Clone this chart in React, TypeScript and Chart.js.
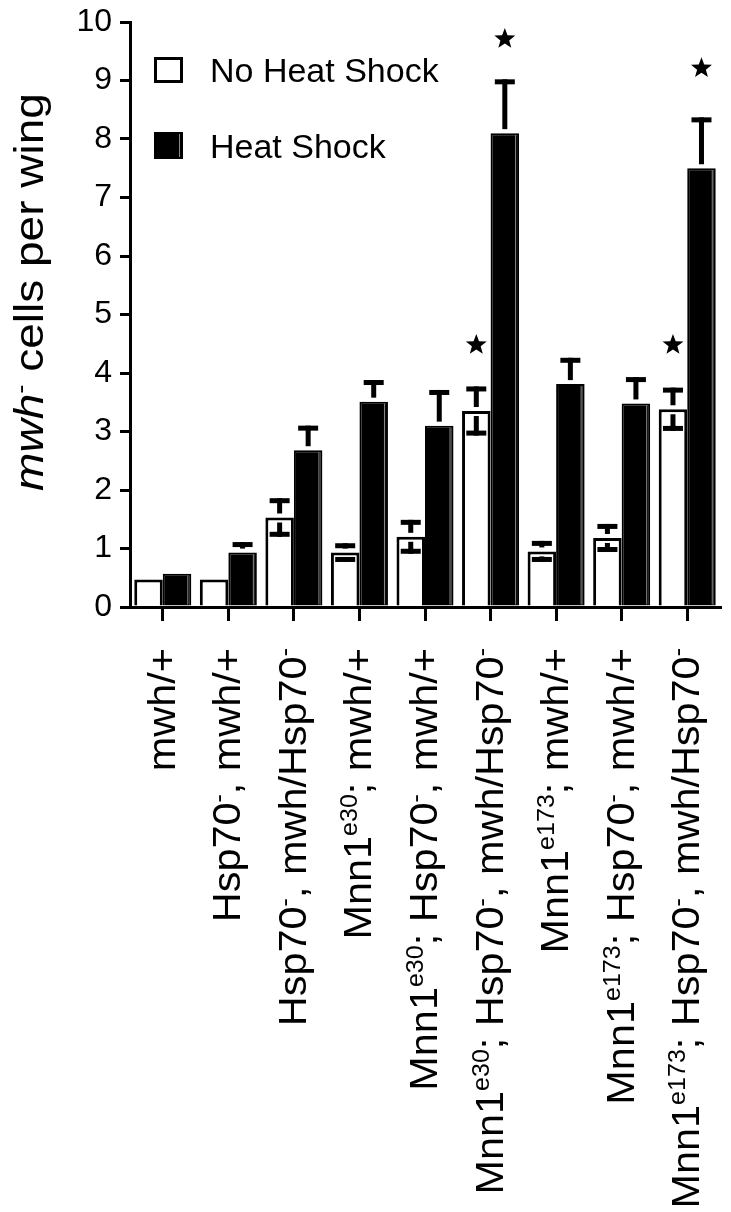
import React, { useEffect, useRef } from "react";
import { Chart, registerables } from "chart.js";

Chart.register(...registerables);

const categories = [
  "mwh/+",
  "Hsp70^{-}, mwh/+",
  "Hsp70^{-}, mwh/Hsp70^{-}",
  "Mnn1^{e30}; mwh/+",
  "Mnn1^{e30}; Hsp70^{-}, mwh/+",
  "Mnn1^{e30}; Hsp70^{-}, mwh/Hsp70^{-}",
  "Mnn1^{e173}; mwh/+",
  "Mnn1^{e173}; Hsp70^{-}, mwh/+",
  "Mnn1^{e173}; Hsp70^{-}, mwh/Hsp70^{-}",
];

const noHeatShock = [0.47, 0.47, 1.53, 0.93, 1.2, 3.35, 0.95, 1.18, 3.38];
const noHeatShockErr = [0, 0, 0.33, 0.16, 0.29, 0.42, 0.18, 0.24, 0.37];
const heatShock = [0.57, 0.93, 2.68, 3.51, 3.1, 8.1, 3.81, 3.48, 7.5];
const heatShockErr = [0, 0.18, 0.42, 0.37, 0.61, 0.92, 0.45, 0.45, 0.87];

const noHeatStars: (number | null)[] = [null, null, null, null, null, 4.48, null, null, 4.48];
const heatStars: (number | null)[] = [null, null, null, null, null, 9.71, null, null, 9.21];

const yTicks = [0, 1, 2, 3, 4, 5, 6, 7, 8, 9, 10];
const seriesNames = ["No Heat Shock", "Heat Shock"];

const FONT = "'Liberation Sans', Arial, Helvetica, sans-serif";

type Seg = { t: string; sup: boolean };
function parse(s: string): Seg[] {
  const segs: Seg[] = [];
  const re = /\^\{([^}]*)\}/g;
  let last = 0;
  let m: RegExpExecArray | null;
  while ((m = re.exec(s))) {
    if (m.index > last) segs.push({ t: s.slice(last, m.index), sup: false });
    segs.push({ t: m[1], sup: true });
    last = re.lastIndex;
  }
  if (last < s.length) segs.push({ t: s.slice(last), sup: false });
  return segs;
}

function plainLabel(s: string) {
  return s.replace(/\^\{([^}]*)\}/g, "$1");
}

function drawStar(ctx: CanvasRenderingContext2D, cx: number, cy: number, r: number) {
  const ri = r * 0.42;
  ctx.beginPath();
  for (let i = 0; i < 10; i++) {
    const rad = i % 2 === 0 ? r : ri;
    const a = -Math.PI / 2 + (i * Math.PI) / 5;
    const x = cx + rad * Math.cos(a);
    const y = cy + rad * Math.sin(a);
    if (i === 0) ctx.moveTo(x, y);
    else ctx.lineTo(x, y);
  }
  ctx.closePath();
  ctx.fill();
}

const customPlugin = {
  id: "custom",
  afterDatasetsDraw(chart: any) {
    const ctx: CanvasRenderingContext2D = chart.ctx;
    const yS = chart.scales.y;
    const errs = [noHeatShockErr, heatShockErr];
    const vals = [noHeatShock, heatShock];
    const stars = [noHeatStars, heatStars];
    ctx.save();
    const metaB = chart.getDatasetMeta(1);
    metaB.data.forEach((bar: any) => {
      const right = bar.x + bar.width / 2;
      ctx.fillStyle = "#8a8a8a";
      ctx.fillRect(right - 4, bar.y + 2, 1, bar.base - bar.y - 3);
    });
    for (let d = 0; d < 2; d++) {
      const meta = chart.getDatasetMeta(d);
      meta.data.forEach((bar: any, i: number) => {
        const v = vals[d][i];
        const e = errs[d][i];
        const xc = bar.x;
        const yv = yS.getPixelForValue(v);
        ctx.fillStyle = "#000";
        if (e > 0.05) {
          const yUp = yS.getPixelForValue(v + e);
          const stemBottom = yv - 4;
          if (stemBottom > yUp) ctx.fillRect(xc - 2.5, yUp, 5, stemBottom - yUp);
          ctx.fillRect(xc - 10, yUp, 20, 5);
          if (d === 0) {
            const yLo = yS.getPixelForValue(v - e);
            const stemTop = yv + 5;
            if (yLo > stemTop) ctx.fillRect(xc - 2.5, stemTop, 5, yLo - stemTop);
            ctx.fillRect(xc - 10, yLo - 5, 20, 5);
          }
        }
        const s = stars[d][i];
        if (s !== null && s !== undefined) {
          drawStar(ctx, xc, yS.getPixelForValue(s), 11);
        }
      });
    }
    ctx.restore();
  },
  afterDraw(chart: any) {
    const ctx: CanvasRenderingContext2D = chart.ctx;
    const xS = chart.scales.x;
    const area = chart.chartArea;
    ctx.save();
    ctx.fillStyle = "#000";
    ctx.textBaseline = "alphabetic";
    ctx.textAlign = "left";
    // category labels
    const mainSize = 38;
    const supSize = 23;
    categories.forEach((c, i) => {
      const segs = parse(c);
      const x = xS.getPixelForValue(i);
      let total = 0;
      segs.forEach((sg) => {
        ctx.font = `${sg.sup ? supSize : mainSize}px ${FONT}`;
        total += ctx.measureText(sg.t).width;
      });
      ctx.save();
      ctx.translate(x + 12, area.bottom + 41);
      ctx.rotate(-Math.PI / 2);
      ctx.scale(1.09, 1);
      let cx = -total;
      segs.forEach((sg) => {
        ctx.font = `${sg.sup ? supSize : mainSize}px ${FONT}`;
        ctx.fillText(sg.t, cx, sg.sup ? -14 : 0);
        cx += ctx.measureText(sg.t).width;
      });
      ctx.restore();
    });
    // y axis title
    const titleSegs = [
      { t: "mwh", style: "italic ", size: 40, dy: 0 },
      { t: "-", style: "", size: 24, dy: -15 },
      { t: " cells per wing", style: "", size: 40, dy: 0 },
    ];
    let tw = 0;
    titleSegs.forEach((s) => {
      ctx.font = `${s.style}${s.size}px ${FONT}`;
      tw += ctx.measureText(s.t).width;
    });
    ctx.save();
    ctx.translate(43, 292);
    ctx.rotate(-Math.PI / 2);
    ctx.scale(1.15, 1);
    let tx = -tw / 2;
    titleSegs.forEach((s) => {
      ctx.font = `${s.style}${s.size}px ${FONT}`;
      ctx.fillText(s.t, tx, s.dy);
      tx += ctx.measureText(s.t).width;
    });
    ctx.restore();
    // legend
    ctx.fillStyle = "#fff";
    ctx.fillRect(154, 57, 29, 26);
    ctx.strokeStyle = "#000";
    ctx.lineWidth = 3;
    ctx.strokeRect(155.5, 58.5, 26, 23);
    ctx.fillStyle = "#000";
    ctx.fillRect(154, 132, 29, 27);
    ctx.fillStyle = "#8a8a8a";
    ctx.fillRect(179, 134, 1, 23);
    ctx.fillStyle = "#000";
    ctx.font = `34px ${FONT}`;
    ctx.fillText(seriesNames[0], 210, 82);
    ctx.fillText(seriesNames[1], 210, 158);
    ctx.restore();
  },
};

export default function App() {
  const ref = useRef<HTMLCanvasElement>(null);
  useEffect(() => {
    document.body.style.margin = "0";
    const canvas = ref.current!;
    const chart = new Chart(canvas, {
      type: "bar",
      data: {
        labels: categories.map(plainLabel),
        datasets: [
          {
            label: seriesNames[0],
            data: noHeatShock,
            backgroundColor: "#ffffff",
            borderColor: "#000000",
            borderWidth: 3,
            categoryPercentage: 0.87,
            barPercentage: 1,
          },
          {
            label: seriesNames[1],
            data: heatShock,
            backgroundColor: "#000000",
            borderColor: "#000000",
            borderWidth: 2,
            categoryPercentage: 0.87,
            barPercentage: 1,
          },
        ],
      },
      options: {
        animation: false,
        responsive: false,
        maintainAspectRatio: false,
        layout: { padding: { top: 22, right: 11, left: 0, bottom: 0 } },
        plugins: { legend: { display: false }, tooltip: { enabled: false } },
        scales: {
          x: {
            grid: {
              display: true,
              drawOnChartArea: false,
              drawTicks: true,
              tickLength: 14,
              offset: false,
              color: "#000",
              lineWidth: 3,
            },
            border: { display: true, color: "#000", width: 3 },
            ticks: { display: false },
            afterFit: (s: any) => {
              s.height = 605;
              s.paddingLeft = 0;
              s.paddingRight = 0;
            },
          },
          y: {
            min: 0,
            max: 10,
            afterBuildTicks: (s: any) => {
              s.ticks = yTicks.map((v) => ({ value: v }));
            },
            ticks: {
              color: "#000",
              font: { family: FONT, size: 32 },
              padding: 8,
            },
            grid: { drawOnChartArea: false, tickLength: 10, color: "#000", lineWidth: 3 },
            border: { color: "#000", width: 3 },
            afterFit: (s: any) => {
              s.width = 130;
              s.paddingTop = 0;
              s.paddingBottom = 0;
            },
          },
        },
      },
      plugins: [customPlugin],
    });
    return () => chart.destroy();
  }, []);
  return <canvas ref={ref} width={731} height={1212} style={{ display: "block" }} />;
}
